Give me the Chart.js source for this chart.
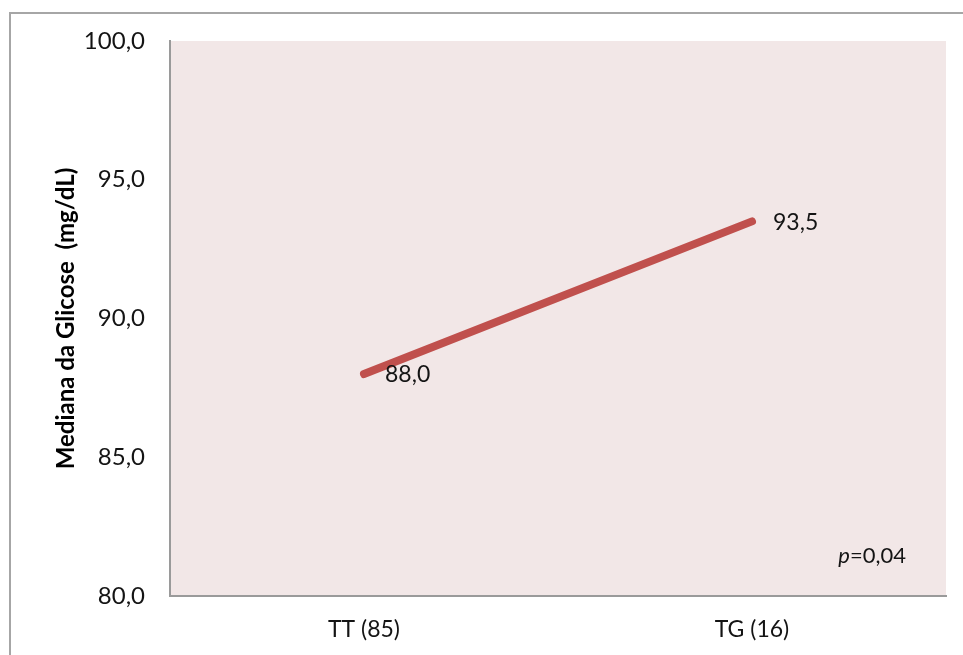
<!DOCTYPE html>
<html>
<head>
<meta charset="utf-8">
<script src="https://cdn.jsdelivr.net/npm/chart.js@4/dist/chart.umd.min.js"></script>
<style>
  html, body { margin: 0; padding: 0; background: #ffffff; }
  #wrap { width: 963px; height: 655px; position: relative; }
</style>
</head>
<body>
<div id="wrap"><canvas id="c" width="963" height="655"></canvas></div>
<script>
// Median glucose by genotype group
const categories = ['TT (85)', 'TG (16)'];
const medianGlucose = [88.0, 93.5];
const yTicks = [80, 85, 90, 95, 100];
const pValueLabel = '0,04';

const FONT = 'Lato, "Open Sans", sans-serif';
const TEXT = '#141414';

const fmt = v => v.toFixed(1).replace('.', ',');

// Plot-area fill and outer frame
const framePlugin = {
  id: 'frame',
  beforeDraw(chart) {
    const { ctx, chartArea: a } = chart;
    ctx.save();
    ctx.fillStyle = '#F2E7E7';
    ctx.fillRect(a.left, a.top, a.right - a.left, a.bottom - a.top);
    ctx.strokeStyle = '#A6A6A6';
    ctx.lineWidth = 2;
    ctx.beginPath();
    ctx.moveTo(10, chart.height);
    ctx.lineTo(10, 13);
    ctx.lineTo(chart.width, 13);
    ctx.stroke();
    ctx.restore();
  }
};

// Value labels beside each point, plus the p-value note
const labelPlugin = {
  id: 'valueLabels',
  afterDatasetsDraw(chart) {
    const { ctx, chartArea: a } = chart;
    const meta = chart.getDatasetMeta(0);
    ctx.save();
    ctx.fillStyle = TEXT;
    ctx.font = '23px ' + FONT;
    ctx.textAlign = 'left';
    ctx.textBaseline = 'middle';
    meta.data.forEach((pt, i) => {
      ctx.fillText(fmt(medianGlucose[i]), pt.x + 21, pt.y + 1);
    });
    // p-value, italic "p"
    ctx.font = '22px ' + FONT;
    const rest = '=' + pValueLabel;
    const restW = ctx.measureText(rest).width;
    ctx.font = 'italic 22px ' + FONT;
    const pW = ctx.measureText('p').width;
    const xEnd = a.right - 40;
    const y = a.bottom - 40;
    ctx.fillText('p', xEnd - restW - pW, y);
    ctx.font = '22px ' + FONT;
    ctx.fillText(rest, xEnd - restW, y);
    ctx.restore();
  }
};

new Chart(document.getElementById('c'), {
  type: 'line',
  data: {
    labels: categories,
    datasets: [{
      data: medianGlucose,
      borderColor: '#C0504D',
      borderWidth: 8,
      borderCapStyle: 'round',
      pointRadius: 0,
      pointHoverRadius: 0,
      fill: false,
      tension: 0
    }]
  },
  options: {
    responsive: false,
    animation: false,
    devicePixelRatio: 1,
    layout: { padding: { left: 0, right: 17, top: 41, bottom: 0 } },
    plugins: {
      legend: { display: false },
      tooltip: { enabled: false }
    },
    scales: {
      x: {
        offset: true,
        grid: { display: false, drawTicks: false },
        border: { display: true, color: '#9A9A9A', width: 2 },
        ticks: {
          padding: 20,
          color: TEXT,
          font: { family: FONT, size: 23 }
        },
        afterFit(scale) { scale.height = 59; }
      },
      y: {
        min: 80,
        max: 100,
        afterBuildTicks(scale) { scale.ticks = yTicks.map(v => ({ value: v })); },
        grid: { display: false, drawTicks: false },
        border: { display: true, color: '#9A9A9A', width: 2 },
        ticks: {
          padding: 25,
          color: TEXT,
          font: { family: FONT, size: 24 },
          callback: v => fmt(v)
        },
        title: {
          display: true,
          text: 'Mediana da Glicose  (mg/dL)',
          color: '#000000',
          font: { family: FONT, size: 24, weight: 'bold' },
          padding: { top: 52, bottom: 0 }
        },
        afterFit(scale) { scale.width = 170; }
      }
    }
  },
  plugins: [framePlugin, labelPlugin]
});
</script>
</body>
</html>
